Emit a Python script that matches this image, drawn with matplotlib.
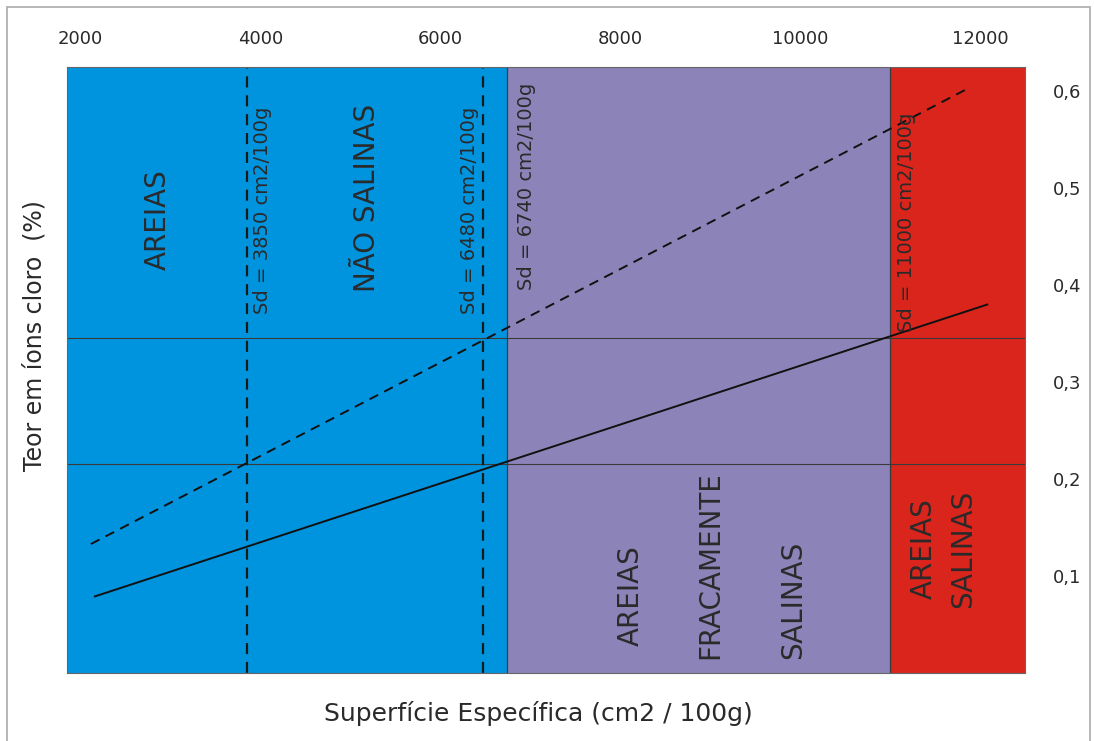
import matplotlib.pyplot as plt
from matplotlib.patches import Rectangle

# zones of specific surface (cm2/100g)
zone_edges = [1850, 6740, 11000, 12500]
zone_colors = ["#0094DE", "#8C84B8", "#DA251D"]

# reference lines
sd_dashed = [3850, 6480]
sd_solid = [6740, 11000]
h_levels = [0.216, 0.346]

# curves
solid_x = [2160, 12080]
solid_y = [0.079, 0.380]
dashed_x = [2115, 11890]
dashed_y = [0.133, 0.604]

x_ticks = [2000, 4000, 6000, 8000, 10000, 12000]
y_ticks = [0.1, 0.2, 0.3, 0.4, 0.5, 0.6]
y_ticklabels = ["0,1", "0,2", "0,3", "0,4", "0,5", "0,6"]

txt = "#2a2a2a"
plt.rcParams["font.family"] = ["DejaVu Sans"]

fig = plt.figure(figsize=(10.94, 7.41), dpi=100)
fig.patches.append(Rectangle((7 / 1094, -0.05), 1083 / 1094, 1.05 - 7 / 741,
                             transform=fig.transFigure, fill=False,
                             edgecolor="#aaaaaa", linewidth=1.2))

ax = fig.add_axes([67 / 1094, 1 - 673 / 741, 958 / 1094, 606 / 741])
ax.set_xlim(zone_edges[0], zone_edges[-1])
ax.set_ylim(0, 0.625)

for i, c in enumerate(zone_colors):
    ax.axvspan(zone_edges[i], zone_edges[i + 1], color=c, lw=0, zorder=0)

for y in h_levels:
    ax.axhline(y, color="#3a3a3a", lw=0.8, zorder=1)
for x in sd_solid:
    ax.axvline(x, color="#3a3a3a", lw=0.9, zorder=1)
for x in sd_dashed:
    ax.axvline(x, color="#1a1a1a", lw=1.6, ls=(0, (5, 3.5)), zorder=2)

ax.plot(solid_x, solid_y, color="#111111", lw=1.4, zorder=3)
ax.plot(dashed_x, dashed_y, color="#111111", lw=1.4, ls=(0, (5, 3.5)), zorder=3)

# Sd annotations
sd_labels = [(4020, 0.37, 3850), (6330, 0.37, 6480), (6960, 0.395, 6740), (11180, 0.352, 11000)]
for x, y, v in sd_labels:
    ax.text(x, y, "Sd = %d cm2/100g" % v, rotation=90, ha="center", va="bottom",
            fontsize=14, color=txt, zorder=4)

# zone names
zone_texts = [(2855, 0.468, "AREIAS"), (5190, 0.49, "NÃO SALINAS"),
              (8115, 0.08, "AREIAS"), (9005, 0.111, "FRACAMENTE"),
              (9925, 0.075, "SALINAS"), (11370, 0.128, "AREIAS"),
              (11810, 0.128, "SALINAS")]
for x, y, s in zone_texts:
    ax.text(x, y, s, rotation=90, ha="center", va="center", fontsize=20,
            color=txt, zorder=4)

ax.xaxis.tick_top()
ax.yaxis.tick_right()
ax.set_xticks(x_ticks)
ax.set_xticklabels([str(v) for v in x_ticks])
ax.set_yticks(y_ticks)
ax.set_yticklabels(y_ticklabels)
ax.tick_params(axis="x", length=0, pad=14, labelsize=13, labelcolor=txt)
ax.tick_params(axis="y", length=0, pad=20, labelsize=13, labelcolor=txt)
for s in ax.spines.values():
    s.set_color("#666666")
    s.set_linewidth(0.8)

fig.text(538 / 1094, 1 - 713 / 741, "Superfície Específica (cm2 / 100g)",
         ha="center", va="center", fontsize=18, color=txt)
fig.text(35 / 1094, 1 - 336 / 741, "Teor em íons cloro  (%)", rotation=90,
         ha="center", va="center", fontsize=17, color=txt)

fig.savefig("out.png", dpi=100)
